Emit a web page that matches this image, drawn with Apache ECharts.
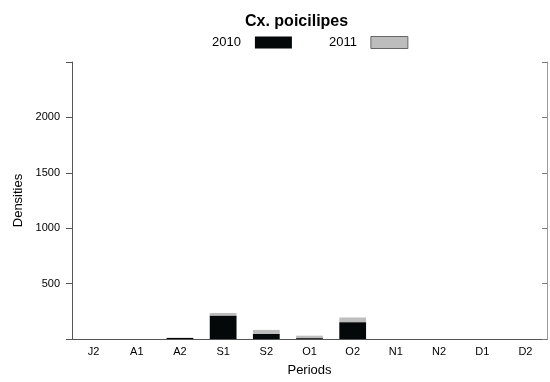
<!DOCTYPE html>
<html>
<head>
<meta charset="utf-8">
<script src="https://cdn.jsdelivr.net/npm/echarts@6/dist/echarts.min.js"></script>
<style>
  html, body { margin: 0; padding: 0; background: #fff; }
  #chart { width: 550px; height: 382px; }
</style>
</head>
<body>
<div id="chart"></div>
<script>
// Periods (half-months) on the x axis
const periods = ['J2', 'A1', 'A2', 'S1', 'S2', 'O1', 'O2', 'N1', 'N2', 'D1', 'D2'];
// Stacked densities per year
const densities2010 = [0, 0, 10, 212, 45, 8, 152, 0, 0, 0, 0];
const densities2011 = [0, 0, 0, 23, 37, 22, 42, 0, 0, 0, 0];
// Y axis range and step
const yMin = 0;
const yMax = 2500;
const yStep = 500;

const FONT = 'Liberation Sans, Arial, sans-serif';
const chart = echarts.init(document.getElementById('chart'), null, { renderer: 'canvas' });

chart.setOption({
  animation: false,
  title: {
    text: 'Cx. poicilipes',
    left: 240,
    top: 9,
    textStyle: { fontFamily: FONT, fontSize: 16, fontWeight: 'bold', color: '#000' }
  },
  legend: {
    left: 207,
    top: 31,
    align: 'right',
    itemWidth: 37,
    itemHeight: 12,
    itemGap: 37,
    icon: 'rect',
    textStyle: { fontFamily: FONT, fontSize: 13, color: '#000', padding: [0, 9, 0, 0] },
    data: [
      { name: '2010', itemStyle: { color: '#050808', borderWidth: 0 } },
      { name: '2011', itemStyle: { color: '#bdbdbd', borderColor: '#666', borderWidth: 1 } }
    ]
  },
  grid: { left: 72, right: 3, top: 62, bottom: 43, containLabel: false },
  xAxis: [
    {
      type: 'category',
      data: periods,
      position: 'bottom',
      name: 'Periods',
      nameLocation: 'middle',
      nameGap: 25,
      nameTextStyle: { fontFamily: FONT, fontSize: 13, color: '#000' },
      axisLine: { lineStyle: { color: '#555', width: 1 } },
      axisTick: { show: false },
      axisLabel: { fontFamily: FONT, fontSize: 11, color: '#000', margin: 7 }
    },
    {
      type: 'category',
      data: periods,
      position: 'top',
      axisLine: { lineStyle: { color: '#555', width: 1 } },
      axisTick: { show: false },
      axisLabel: { show: false }
    }
  ],
  yAxis: [
    {
      type: 'value',
      position: 'left',
      min: yMin,
      max: yMax,
      interval: yStep,
      name: 'Densities',
      nameLocation: 'middle',
      nameGap: 44,
      nameRotate: 90,
      nameTextStyle: { fontFamily: FONT, fontSize: 13, color: '#000' },
      axisLine: { show: true, lineStyle: { color: '#555', width: 1 } },
      axisTick: { show: true, inside: false, length: 6, lineStyle: { color: '#555' } },
      axisLabel: {
        fontFamily: FONT, fontSize: 11, color: '#000', margin: 12,
        formatter: v => (v === yMin || v === yMax) ? '' : String(v)
      },
      splitLine: { show: false }
    },
    {
      type: 'value',
      position: 'right',
      min: yMin,
      max: yMax,
      interval: yStep,
      axisLine: { show: true, lineStyle: { color: '#999', width: 1 } },
      axisTick: { show: true, inside: true, length: 5, lineStyle: { color: '#777' } },
      axisLabel: { show: false },
      splitLine: { show: false }
    }
  ],
  series: [
    {
      name: '2010',
      type: 'bar',
      stack: 'year',
      barWidth: '62%',
      data: densities2010,
      itemStyle: { color: '#050808' }
    },
    {
      name: '2011',
      type: 'bar',
      stack: 'year',
      barWidth: '62%',
      data: densities2011,
      itemStyle: { color: '#bdbdbd' }
    }
  ]
});
</script>
</body>
</html>
